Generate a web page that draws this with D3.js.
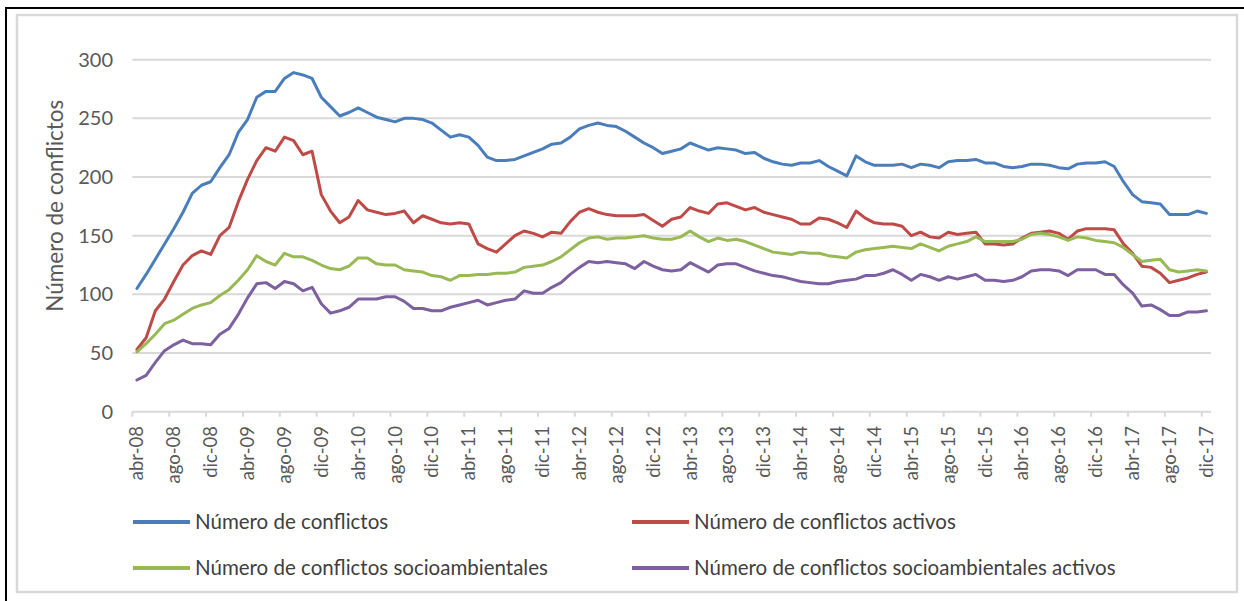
<!DOCTYPE html>
<html>
<head>
<meta charset="utf-8">
<script src="https://cdn.jsdelivr.net/npm/d3@7"></script>
<style>
  body { margin: 0; background: #fff; }
  svg { display: block; font-family: Lato, 'Open Sans', sans-serif; }
</style>
</head>
<body>
<div id="chart"></div>
<script>
// monthly categories abr-08 .. dic-17
const monthNames = ['ene', 'feb', 'mar', 'abr', 'may', 'jun', 'jul', 'ago', 'sep', 'oct', 'nov', 'dic'];
const categories = d3.timeMonth.range(new Date(2008, 3, 1), new Date(2018, 0, 1))
  .map(d => monthNames[d.getMonth()] + '-' + String(d.getFullYear()).slice(2));

const tickLabels = [
  'abr-08', 'ago-08', 'dic-08', 'abr-09', 'ago-09', 'dic-09', 'abr-10', 'ago-10', 'dic-10',
  'abr-11', 'ago-11', 'dic-11', 'abr-12', 'ago-12', 'dic-12', 'abr-13', 'ago-13', 'dic-13',
  'abr-14', 'ago-14', 'dic-14', 'abr-15', 'ago-15', 'dic-15', 'abr-16', 'ago-16', 'dic-16',
  'abr-17', 'ago-17', 'dic-17'
];
const yTicks = [0, 50, 100, 150, 200, 250, 300];

const conflictos = [
  105, 117, 130, 143, 156, 170, 186, 193, 196,
  208, 219, 238, 249, 268, 273, 273, 284, 289, 287, 284, 268,
  260, 252, 255, 259, 255, 251, 249, 247, 250, 250, 249, 246,
  240, 234, 236, 234, 227, 217, 214, 214, 215, 218, 221, 224,
  228, 229, 234, 241, 244, 246, 244, 243, 239, 234, 229, 225,
  220, 222, 224, 229, 226, 223, 225, 224, 223, 220, 221, 216,
  213, 211, 210, 212, 212, 214, 209, 205, 201, 218, 213, 210,
  210, 210, 211, 208, 211, 210, 208, 213, 214, 214, 215, 212,
  212, 209, 208, 209, 211, 211, 210, 208, 207, 211, 212, 212,
  213, 209, 196, 185, 179, 178, 177, 168, 168, 168, 171, 169
];
const activos = [
  53, 63, 86, 96, 111, 125, 133, 137, 134,
  150, 157, 179, 198, 214, 225, 222, 234, 231, 219, 222, 185,
  171, 161, 166, 180, 172, 170, 168, 169, 171, 161, 167, 164,
  161, 160, 161, 160, 143, 139, 136, 143, 150, 154, 152, 149,
  153, 152, 162, 170, 173, 170, 168, 167, 167, 167, 168, 163,
  158, 164, 166, 174, 171, 169, 177, 178, 175, 172, 174, 170,
  168, 166, 164, 160, 160, 165, 164, 161, 157, 171, 165, 161,
  160, 160, 158, 150, 153, 149, 148, 153, 151, 152, 153, 143,
  143, 142, 143, 148, 152, 153, 154, 152, 147, 154, 156, 156,
  156, 155, 143, 135, 124, 123, 118, 110, 112, 114, 117, 119
];
const socioambientales = [
  51, 58, 66, 75, 78, 83, 88, 91, 93,
  99, 104, 112, 121, 133, 128, 125, 135, 132, 132, 129, 125,
  122, 121, 124, 131, 131, 126, 125, 125, 121, 120, 119, 116,
  115, 112, 116, 116, 117, 117, 118, 118, 119, 123, 124, 125,
  128, 132, 138, 144, 148, 149, 147, 148, 148, 149, 150, 148,
  147, 147, 149, 154, 149, 145, 148, 146, 147, 145, 142, 139,
  136, 135, 134, 136, 135, 135, 133, 132, 131, 136, 138, 139,
  140, 141, 140, 139, 143, 140, 137, 141, 143, 145, 149, 145,
  145, 145, 145, 147, 151, 152, 151, 149, 146, 149, 148, 146,
  145, 144, 140, 134, 128, 129, 130, 121, 119, 120, 121, 120
];
const socioActivos = [
  27, 31, 42, 52, 57, 61, 58, 58, 57,
  66, 71, 83, 97, 109, 110, 105, 111, 109, 103, 106, 92,
  84, 86, 89, 96, 96, 96, 98, 98, 94, 88, 88, 86,
  86, 89, 91, 93, 95, 91, 93, 95, 96, 103, 101, 101,
  106, 110, 117, 123, 128, 127, 128, 127, 126, 122, 128, 124,
  121, 120, 121, 127, 123, 119, 125, 126, 126, 123, 120, 118,
  116, 115, 113, 111, 110, 109, 109, 111, 112, 113, 116, 116,
  118, 121, 117, 112, 117, 115, 112, 115, 113, 115, 117, 112,
  112, 111, 112, 115, 120, 121, 121, 120, 116, 121, 121, 121,
  117, 117, 108, 101, 90, 91, 87, 82, 82, 85, 85, 86
];

const seriesNames = [
  'Número de conflictos',
  'Número de conflictos activos',
  'Número de conflictos socioambientales',
  'Número de conflictos socioambientales activos'
];
const seriesColors = ['#4a7ebb', '#be4b48', '#98b954', '#7d60a0'];
const series = [conflictos, activos, socioambientales, socioActivos];

const width = 1244, height = 601;
const plot = { left: 132.3, right: 1211, top: 59.7, bottom: 411.7 };

const svg = d3.select('#chart').append('svg')
  .attr('width', width)
  .attr('height', height);

// frames
svg.append('rect')
  .attr('x', 17).attr('y', 15)
  .attr('width', 1220).attr('height', 577)
  .attr('fill', '#fff')
  .attr('stroke', '#d9d9d9')
  .attr('stroke-width', 2.5);
svg.append('line')
  .attr('x1', 5).attr('x2', width).attr('y1', 8).attr('y2', 8)
  .attr('stroke', '#000').attr('stroke-width', 2);
svg.append('line')
  .attr('x1', 6).attr('x2', 6).attr('y1', 7).attr('y2', height)
  .attr('stroke', '#000').attr('stroke-width', 2);

const x = d3.scaleBand().domain(categories).range([plot.left, plot.right]).padding(0);
const y = d3.scaleLinear().domain([0, 300]).range([plot.bottom, plot.top]);
const cx = c => x(c) + x.bandwidth() / 2;

// gridlines
svg.append('g')
  .selectAll('line')
  .data(yTicks.filter(d => d > 0))
  .enter()
  .append('line')
  .attr('x1', plot.left).attr('x2', plot.right)
  .attr('y1', d => y(d)).attr('y2', d => y(d))
  .attr('stroke', '#d9d9d9')
  .attr('stroke-width', 2);

// y labels
svg.append('g')
  .selectAll('text')
  .data(yTicks)
  .enter()
  .append('text')
  .attr('x', 113)
  .attr('y', d => y(d))
  .attr('dy', '0.35em')
  .attr('text-anchor', 'end')
  .attr('fill', '#595959')
  .style('font-size', '20px')
  .text(d => d);

// y title
svg.append('text')
  .attr('transform', `translate(63, ${(plot.top + plot.bottom) / 2 - 30}) rotate(-90)`)
  .attr('text-anchor', 'middle')
  .attr('fill', '#595959')
  .style('font-size', '22.5px')
  .text('Número de conflictos');

// x axis line and ticks
svg.append('line')
  .attr('x1', plot.left).attr('x2', plot.right)
  .attr('y1', plot.bottom).attr('y2', plot.bottom)
  .attr('stroke', '#d9d9d9').attr('stroke-width', 2);

svg.append('g')
  .selectAll('line')
  .data(tickLabels)
  .enter()
  .append('line')
  .attr('x1', d => x(d)).attr('x2', d => x(d))
  .attr('y1', plot.bottom).attr('y2', plot.bottom + 5)
  .attr('stroke', '#d9d9d9').attr('stroke-width', 2);

svg.append('g')
  .selectAll('text')
  .data(tickLabels)
  .enter()
  .append('text')
  .attr('transform', d => `translate(${cx(d)}, 426) rotate(-90)`)
  .attr('dy', '0.35em')
  .attr('text-anchor', 'end')
  .attr('fill', '#595959')
  .style('font-size', '18.5px')
  .text(d => d);

// series lines
const line = d3.line()
  .x((d, i) => cx(categories[i]))
  .y(d => y(d));

svg.append('g')
  .selectAll('path')
  .data(series)
  .enter()
  .append('path')
  .attr('d', d => line(d))
  .attr('fill', 'none')
  .attr('stroke', (d, i) => seriesColors[i])
  .attr('stroke-width', 3)
  .attr('stroke-linejoin', 'round')
  .attr('stroke-linecap', 'round');

// legend
const legendPos = [[133, 522], [632, 522], [133, 568], [632, 568]];
const legend = svg.append('g')
  .selectAll('g')
  .data(seriesNames)
  .enter()
  .append('g')
  .attr('transform', (d, i) => `translate(${legendPos[i][0]}, ${legendPos[i][1]})`);

legend.append('line')
  .attr('x1', 0).attr('x2', 57)
  .attr('stroke', (d, i) => seriesColors[i])
  .attr('stroke-width', 4);

legend.append('text')
  .attr('x', 62)
  .attr('dy', '0.35em')
  .attr('fill', '#404040')
  .style('font-size', '20.5px')
  .text(d => d);
</script>
</body>
</html>
